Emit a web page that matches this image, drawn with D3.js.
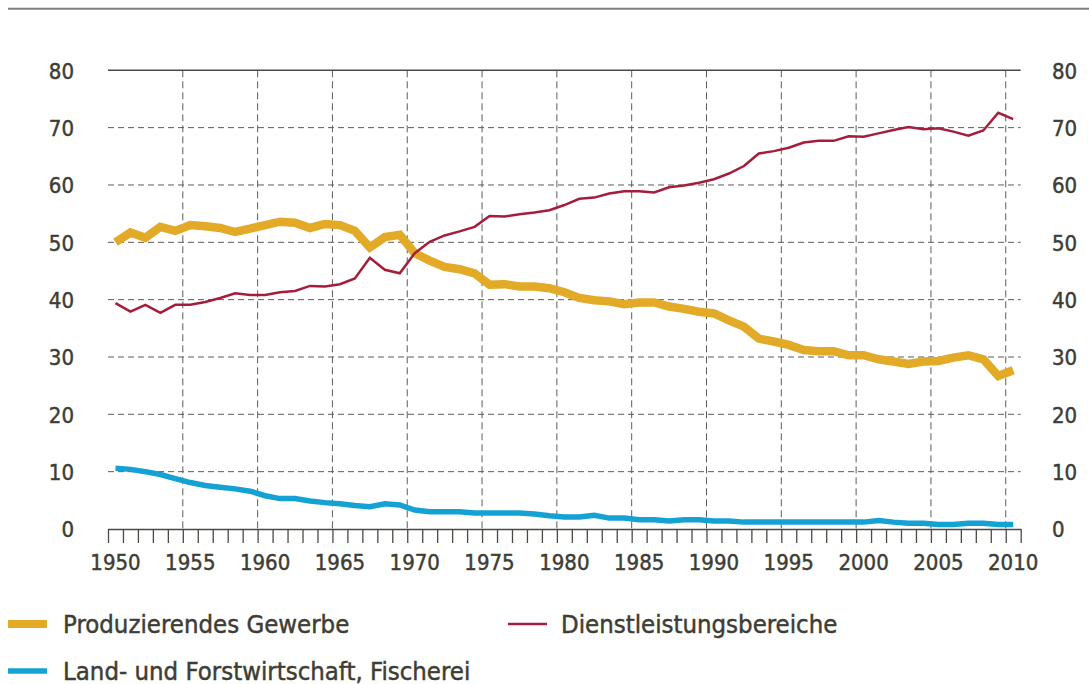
<!DOCTYPE html>
<html>
<head>
<meta charset="utf-8">
<script src="https://cdn.jsdelivr.net/npm/d3@7"></script>
<style>
  body { margin: 0; background: #fff; }
  svg { display: block; font-family: "DejaVu Sans Condensed", "DejaVu Sans", sans-serif; font-stretch: condensed; }
  text { stroke: #3d3d35; stroke-width: 0.45px; }
</style>
</head>
<body>
<svg id="chart" width="1089" height="684"></svg>
<script>
// Anteile der Wirtschaftsbereiche an der Erwerbstätigkeit, 1950-2010 (in %)
const years = d3.range(1950, 2011);

const produzierend = [
  50.0, 51.7, 50.8, 52.7, 52.0, 53.0, 52.8, 52.5, 51.8, 52.4,
  53.0, 53.6, 53.4, 52.5, 53.2, 53.0, 52.0, 49.1, 50.9, 51.3,
  48.1, 46.8, 45.7, 45.3, 44.6, 42.6, 42.7, 42.3, 42.3, 42.0,
  41.3, 40.3, 39.9, 39.7, 39.2, 39.5, 39.5, 38.8, 38.4, 37.9,
  37.6, 36.4, 35.3, 33.2, 32.7, 32.1, 31.2, 31.0, 31.0, 30.3,
  30.3, 29.6, 29.2, 28.8, 29.2, 29.3, 29.9, 30.3, 29.6, 26.7,
  27.7
];

const dienstleistung = [
  39.4, 37.9, 39.1, 37.7, 39.1, 39.1, 39.6, 40.3, 41.1, 40.8,
  40.8, 41.3, 41.5, 42.4, 42.3, 42.7, 43.7, 47.3, 45.2, 44.6,
  48.1, 50.1, 51.2, 51.9, 52.7, 54.6, 54.5, 54.9, 55.2, 55.6,
  56.5, 57.6, 57.8, 58.5, 58.9, 58.9, 58.7, 59.6, 59.9, 60.4,
  61.0, 62.0, 63.3, 65.5, 65.9, 66.5, 67.4, 67.7, 67.7, 68.5,
  68.4, 69.0, 69.6, 70.1, 69.7, 69.9, 69.3, 68.6, 69.5, 72.6,
  71.5
];

const landwirtschaft = [
  10.6, 10.4, 10.0, 9.5, 8.8, 8.1, 7.6, 7.3, 7.0, 6.6,
  5.8, 5.3, 5.3, 4.9, 4.6, 4.4, 4.1, 3.9, 4.4, 4.2,
  3.3, 3.0, 3.0, 3.0, 2.8, 2.8, 2.8, 2.8, 2.6, 2.3,
  2.1, 2.1, 2.4, 1.9, 1.9, 1.6, 1.6, 1.4, 1.6, 1.6,
  1.4, 1.4, 1.2, 1.2, 1.2, 1.2, 1.2, 1.2, 1.2, 1.2,
  1.2, 1.5, 1.2, 1.0, 1.0, 0.8, 0.8, 1.0, 1.0, 0.8,
  0.8
];

const yTicks = [0, 10, 20, 30, 40, 50, 60, 70, 80];
const yearLabels = d3.range(1950, 2011, 5);

const textColor = "#3d3d35";
const gridColor = "#5c5c58";

const series = [
  { name: "Produzierendes Gewerbe", values: produzierend, color: "#e2aa27", width: 8.5 },
  { name: "Dienstleistungsbereiche", values: dienstleistung, color: "#a51d3a", width: 2.5 },
  { name: "Land- und Forstwirtschaft, Fischerei", values: landwirtschaft, color: "#13a2d3", width: 5.5 }
];

const svg = d3.select("#chart");

const plotLeft = 108, plotRight = 1020.7, plotTop = 70.3, plotBottom = 529;

const x = d3.scaleLinear().domain([1950, 2011]).range([plotLeft, plotRight]);
const y = d3.scaleLinear().domain([0, 80]).range([plotBottom, plotTop]);

// top rule
svg.append("line")
  .attr("x1", 8).attr("x2", 1089).attr("y1", 8.7).attr("y2", 8.7)
  .attr("stroke", "#7d7d7a").attr("stroke-width", 2);

// horizontal grid
svg.append("g").selectAll("line")
  .data(yTicks.filter(d => d > 0 && d < 80))
  .join("line")
  .attr("x1", plotLeft).attr("x2", plotRight)
  .attr("y1", d => y(d)).attr("y2", d => y(d))
  .attr("stroke", gridColor).attr("stroke-width", 1)
  .attr("stroke-dasharray", "6,4");

// vertical grid
svg.append("g").selectAll("line")
  .data(yearLabels.filter(d => d > 1950))
  .join("line")
  .attr("x1", d => x(d)).attr("x2", d => x(d))
  .attr("y1", plotTop).attr("y2", plotBottom)
  .attr("stroke", gridColor).attr("stroke-width", 1)
  .attr("stroke-dasharray", "7,4");

// top line of plot
svg.append("line")
  .attr("x1", plotLeft).attr("x2", plotRight).attr("y1", plotTop).attr("y2", plotTop)
  .attr("stroke", "#4a4a45").attr("stroke-width", 1.5);

// x axis with yearly ticks
const xAxis = svg.append("g")
  .attr("transform", `translate(0,${plotBottom})`)
  .call(d3.axisBottom(x).tickValues(d3.range(1950, 2012)).tickFormat("").tickSize(14).tickSizeOuter(0));
xAxis.select(".domain").attr("stroke", "#4a4a45").attr("stroke-width", 1.5);
xAxis.selectAll(".tick line").attr("stroke", "#4a4a45").attr("stroke-width", 1.3);

svg.append("g").selectAll("text")
  .data(yearLabels)
  .join("text")
  .attr("x", d => x(d + 0.5))
  .attr("y", 570)
  .attr("text-anchor", "middle")
  .attr("fill", textColor)
  .attr("font-size", 22)
  .text(d => d);

// y labels left and right
const yLeft = svg.append("g")
  .attr("transform", "translate(74,0)")
  .call(d3.axisLeft(y).tickValues(yTicks).tickSize(0).tickPadding(0));
const yRight = svg.append("g")
  .attr("transform", "translate(1052,0)")
  .call(d3.axisRight(y).tickValues(yTicks).tickSize(0).tickPadding(0));
[yLeft, yRight].forEach(g => {
  g.select(".domain").remove();
  g.attr("font-family", null).attr("font-size", null);
  g.selectAll("text")
    .attr("fill", textColor)
    .attr("font-size", 22)
    .attr("dy", "0.36em");
});

// lines
const line = d3.line()
  .x((d, i) => x(years[i] + 0.5))
  .y(d => y(d))
  .curve(d3.curveLinear);

svg.append("g").selectAll("path")
  .data(series)
  .join("path")
  .attr("d", d => line(d.values))
  .attr("fill", "none")
  .attr("stroke", d => d.color)
  .attr("stroke-width", d => d.width)
  .attr("stroke-linejoin", "miter")
  .attr("stroke-miterlimit", 2);

// legend
const legendPos = [
  { x: 8, y: 624 },
  { x: 508, y: 624 },
  { x: 8, y: 671 }
];
const legend = svg.append("g").selectAll("g")
  .data(series)
  .join("g")
  .attr("transform", (d, i) => `translate(${legendPos[i].x},${legendPos[i].y})`);
legend.append("line")
  .attr("x1", 0).attr("x2", 39).attr("y1", 0).attr("y2", 0)
  .attr("stroke", d => d.color)
  .attr("stroke-width", d => Math.min(d.width, 8));
legend.append("text")
  .attr("x", (d, i) => i === 1 ? 53 : 55).attr("y", 8.5)
  .attr("fill", textColor)
  .attr("font-size", 25.5)
  .text(d => d.name);
</script>
</body>
</html>
